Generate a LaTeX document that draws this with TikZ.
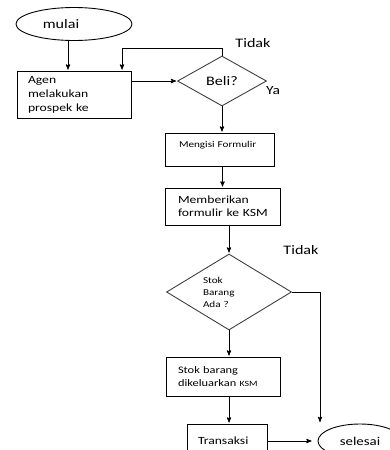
\documentclass[tikz,border=0pt]{standalone}
\usepackage{fontspec}
\setmainfont{Carlito}[FakeStretch=1.24]
\usetikzlibrary{shapes}
\usetikzlibrary{arrows}
\usetikzlibrary{positioning}

\begin{document}
\begin{tikzpicture}[x=1pt,y=-1pt,>=stealth',shorten >=1pt,%
    line width=0.9pt,inner sep=0pt,
    box/.style={draw,rectangle,align=left},
    term/.style={draw,ellipse},
    cond/.style={draw=black!75,diamond}]
  \path[use as bounding box,clip] (0,0) rectangle (390,450);

  \node[term,minimum width=116pt,minimum height=33pt,font=\fontsize{13}{15}\selectfont]
    (mulai) at (74,24) {\hspace*{-26pt}mulai};
  \node[box,text width=92pt,inner xsep=11pt,minimum height=47pt,font=\fontsize{11}{14}\selectfont]
    (agen) at (74,94.5) {Agen\\melakukan\\prospek ke};
  \node[cond,minimum width=89pt,minimum height=50pt,font=\fontsize{13}{15}\selectfont]
    (beli) at (222,81) {Beli?};
  \node[font=\fontsize{13}{15}\selectfont] (tidak1) at (253,43) {Tidak};
  \node[font=\fontsize{12.5}{15}\selectfont] (ya) at (273,91) {Ya};
  \node[box,text width=81pt,inner xsep=14pt,minimum height=33pt,text depth=10pt,font=\fontsize{9}{11}\selectfont]
    (isi) at (219.5,149.5) {Mengisi Formulir};
  \node[box,text width=89pt,inner xsep=13pt,minimum height=37pt,font=\fontsize{11}{13}\selectfont]
    (kirim) at (222.5,206.5) {Memberikan\\\mbox{formulir ke KSM}};
  \node[cond,aspect=1.6,text width=52pt,align=left,minimum width=125pt,minimum height=76pt,font=\fontsize{9}{12}\selectfont]
    (stok) at (229,292) {Stok\\Barang\\Ada ?};
  \node[font=\fontsize{13}{15}\selectfont] (tidak2) at (301,250) {Tidak};
  \node[box,text width=90pt,inner xsep=12pt,minimum height=39pt,font=\fontsize{10}{13}\selectfont]
    (keluar) at (223,376.5) {Stok barang\\dikeluarkan {\fontsize{8}{10}\selectfont KSM}};
  \node[box,text width=58pt,inner xsep=11pt,minimum height=34pt,font=\fontsize{11}{13}\selectfont]
    (transaksi) at (227,441) {Transaksi};
  \node[term,minimum width=84pt,minimum height=34pt,font=\fontsize{12}{14}\selectfont]
    (selesai) at (360,441) {selesai};
  \coordinate (masuk) at (320,423);

  \draw[->] ([xshift=-6pt]mulai.south) -- ([xshift=-6pt]agen.north);
  \draw[->] (agen.east |- beli) -- (beli.west);
  \draw[->] (beli.north) -- ++(0,-7) -| ([xshift=48pt]agen.north);
  \draw[->] (beli.south) -- (beli.south |- isi.north);
  \draw[->] (kirim.north |- isi.south) -- (kirim.north);
  \draw[->] (stok.north |- kirim.south) -- (stok.north);
  \draw[->] (stok.south) -- (stok.south |- keluar.north);
  \draw[->] (stok.south |- keluar.south) -- (stok.south |- transaksi.north);
  \draw[->] (stok.east) -| (masuk);
  \draw[->,shorten >=6pt] (transaksi.east) -- (selesai.west);
\end{tikzpicture}
\end{document}
